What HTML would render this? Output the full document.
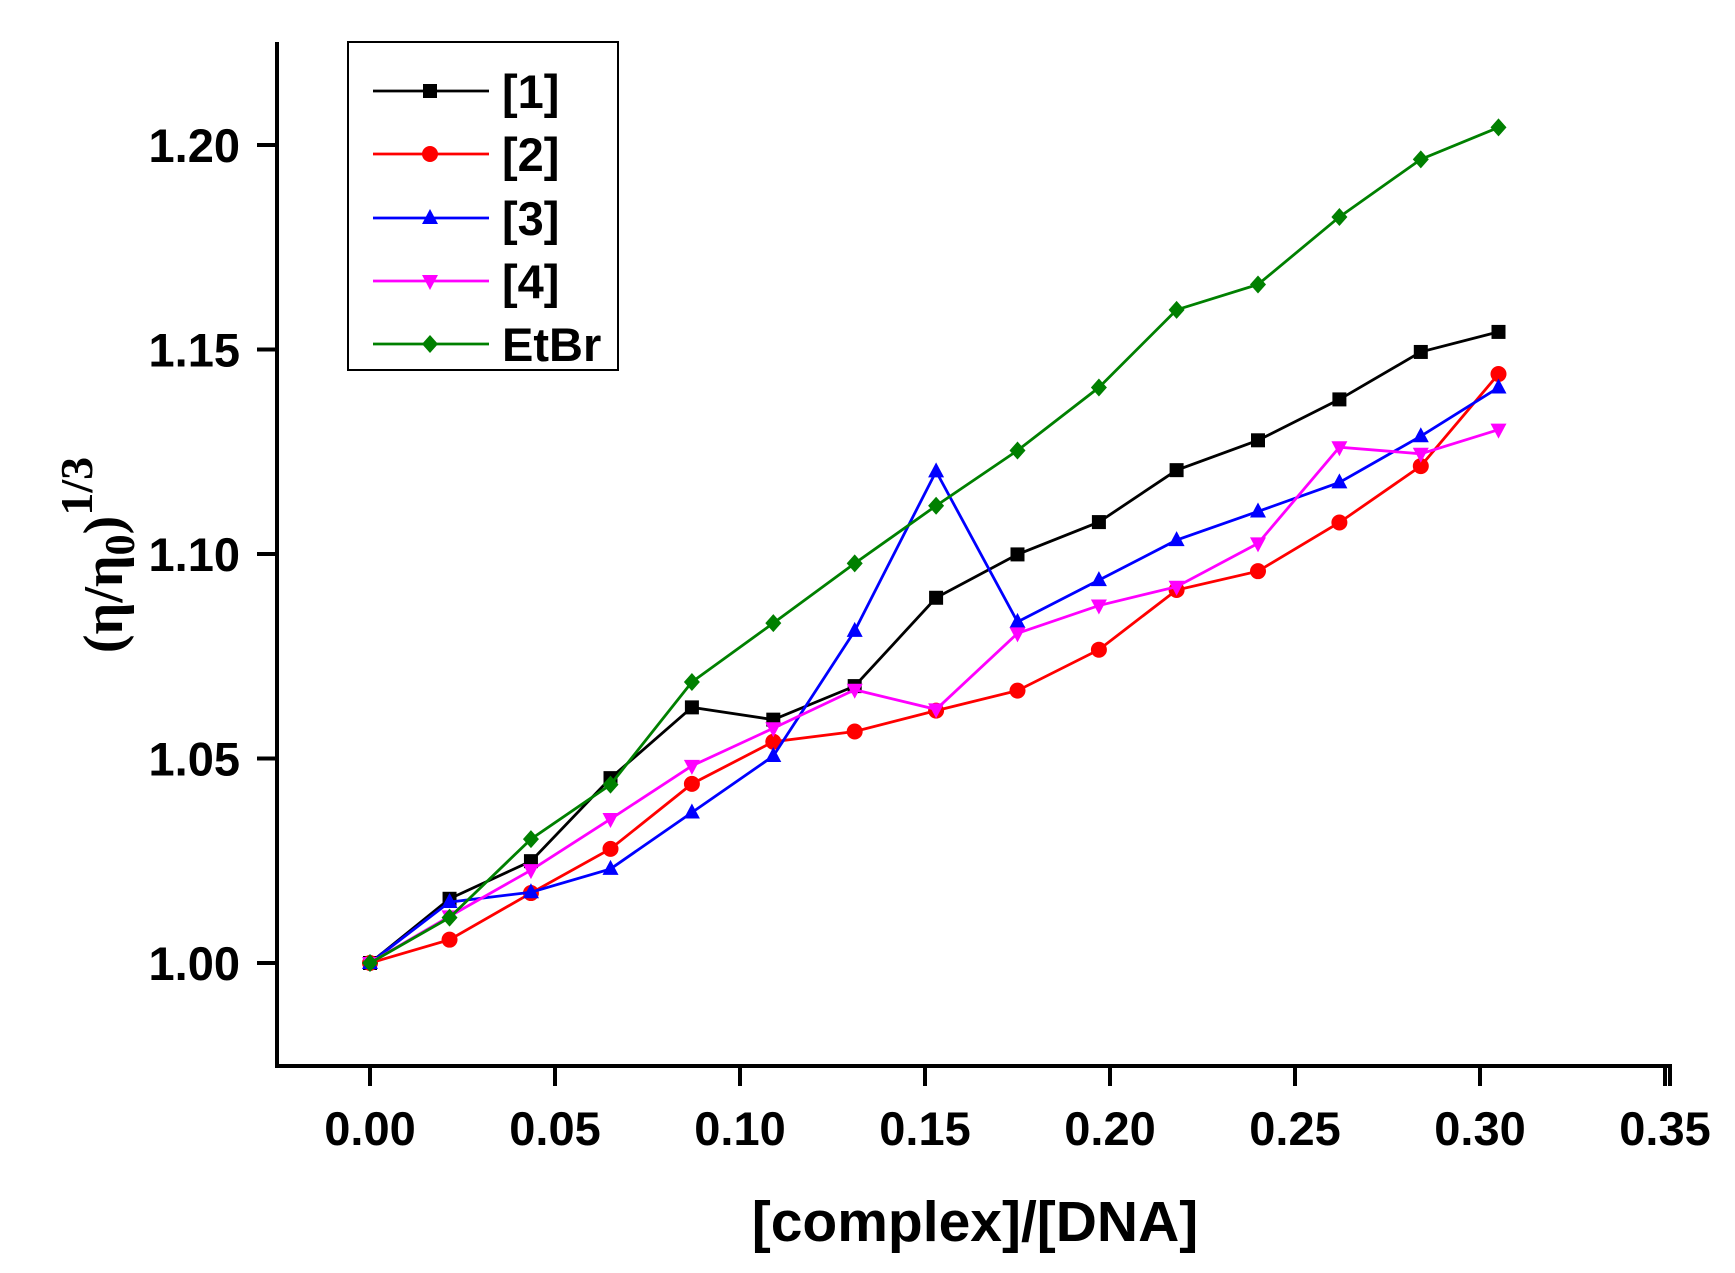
<!DOCTYPE html>
<html><head><meta charset="utf-8"><style>
html,body{margin:0;padding:0;background:#fff;}
svg{display:block;font-family:"Liberation Sans",Arial,sans-serif;}
</style></head><body>
<svg id="chart" width="1735" height="1273" viewBox="0 0 1735 1273">
<g id="axes"></g>
<g id="series"></g>
<g id="legend"></g>
</svg>
<script>
const xValues = [0, 0.0215, 0.0435, 0.065, 0.087, 0.109, 0.131, 0.153, 0.175, 0.197, 0.218, 0.240, 0.262, 0.284, 0.305];
const series1 = [1.000,1.0157,1.0249,1.0452,1.0625,1.0595,1.0677,1.0893,1.0999,1.1078,1.1205,1.1278,1.1378,1.1494,1.1543];
const series2 = [1.000,1.0057,1.0171,1.0279,1.0438,1.0541,1.0566,1.0617,1.0666,1.0766,1.0912,1.0958,1.1077,1.1215,1.1440];
const series3 = [1.000,1.0149,1.0173,1.0230,1.0368,1.0506,1.0812,1.1202,1.0834,1.0936,1.1034,1.1104,1.1175,1.1288,1.1407];
const series4 = [1.000,1.0114,1.0227,1.0352,1.0482,1.0574,1.0668,1.0620,1.0806,1.0874,1.0920,1.1026,1.1261,1.1245,1.1304];
const seriesEtBr = [1.000,1.0111,1.0303,1.0436,1.0687,1.0831,1.0977,1.1118,1.1253,1.1407,1.1597,1.1659,1.1824,1.1965,1.2043];
const seriesNames = ["[1]","[2]","[3]","[4]","EtBr"];
const xTicks = [0,0.05,0.10,0.15,0.20,0.25,0.30,0.35];
const xTickLabels = ["0.00","0.05","0.10","0.15","0.20","0.25","0.30","0.35"];
const yTicks = [1.00,1.05,1.10,1.15,1.20];
const yTickLabels = ["1.00","1.05","1.10","1.15","1.20"];

const NS="http://www.w3.org/2000/svg";
const X0=277,X1=1670,Y0=1066,Y1=42;
function xs(v){return 370+(v-0)*(1665-370)/0.35;}
function ys(v){return 963-(v-1.0)*(963-145)/0.2;}
function mk(tag,attrs,parent){const e=document.createElementNS(NS,tag);for(const k in attrs)e.setAttribute(k,attrs[k]);parent.appendChild(e);return e;}
const axes=document.getElementById('axes');
let a=mk('path',{d:`M${X0},${Y1} L${X0},${Y0} L${X1},${Y0} L${X1},${Y0+20}`,fill:'none',stroke:'#000','stroke-width':4},axes);


xTicks.forEach((t,i)=>{
  const x=xs(t);
  const l=mk('line',{x1:x,y1:Y0,x2:x,y2:Y0+20,stroke:'#000','stroke-width':4},axes);
  
  
  const tx=mk('text',{x:x,y:Y0+79,'text-anchor':'middle','font-size':47,'font-weight':'bold'},axes);
  tx.textContent=xTickLabels[i];
  
  
});
yTicks.forEach((t,i)=>{
  const y=ys(t);
  const l=mk('line',{x1:X0-20,y1:y,x2:X0,y2:y,stroke:'#000','stroke-width':4},axes);
  
  
  const tx=mk('text',{x:240,y:y+17,'text-anchor':'end','font-size':47,'font-weight':'bold'},axes);
  tx.textContent=yTickLabels[i];
  
  
});
const xt=mk('text',{x:975,y:1241,'text-anchor':'middle','font-size':57,'font-weight':'bold'},axes);
xt.textContent='[complex]/[DNA]';


const yt=mk('text',{transform:'translate(122,555) rotate(-90)','text-anchor':'middle','font-size':56,'font-weight':'bold','font-family':'"Liberation Serif",serif'},axes);
yt.innerHTML='(η/η<tspan font-size="42" dy="12">0</tspan><tspan dy="-12">)</tspan><tspan font-size="46" dy="-30">1/3</tspan>';



const colors=['#000000','#ff0000','#0000ff','#ff00ff','#008000'];
const shapes=['square','circle','up','down','diamond'];
const allSeries=[series1,series2,series3,series4,seriesEtBr];
function marker(shape,x,y,c,parent){
  const s=8;
  if(shape==='square')return mk('rect',{x:x-s+1,y:y-s+1,width:2*s-2,height:2*s-2,fill:c},parent);
  if(shape==='circle')return mk('circle',{cx:x,cy:y,r:s,fill:c},parent);
  if(shape==='up')return mk('polygon',{points:`${x},${y-s-1} ${x+s},${y+s-2} ${x-s},${y+s-2}`,fill:c},parent);
  if(shape==='down')return mk('polygon',{points:`${x},${y+s+1} ${x+s},${y-s+2} ${x-s},${y-s+2}`,fill:c},parent);
  return mk('polygon',{points:`${x},${y-s-1} ${x+s},${y} ${x},${y+s+1} ${x-s},${y}`,fill:c},parent);
}
const sg=document.getElementById('series');
allSeries.forEach((data,si)=>{
  const g=mk('g',{},sg);
  
  
  const pl=mk('polyline',{points:data.map((v,i)=>xs(xValues[i])+','+ys(v)).join(' '),fill:'none',stroke:colors[si],'stroke-width':2.8},g);
  
  
  data.forEach((v,i)=>{
    const m=marker(shapes[si],xs(xValues[i]),ys(v),colors[si],g);
    
    
  });
});
const lg=document.getElementById('legend');
const box=mk('rect',{x:348,y:42,width:270,height:328,fill:'#fff',stroke:'#000','stroke-width':2},lg);


const ly=[91,154,218,281,344];
seriesNames.forEach((n,i)=>{
  const g=mk('g',{},lg);
  
  
  mk('line',{x1:373,y1:ly[i],x2:489,y2:ly[i],stroke:colors[i],'stroke-width':2.8},g);
  marker(shapes[i],430,ly[i],colors[i],g);
  const t=mk('text',{x:502,y:ly[i]+17,'font-size':47,'font-weight':'bold'},g);
  t.textContent=n;
});
</script>
</body></html>
